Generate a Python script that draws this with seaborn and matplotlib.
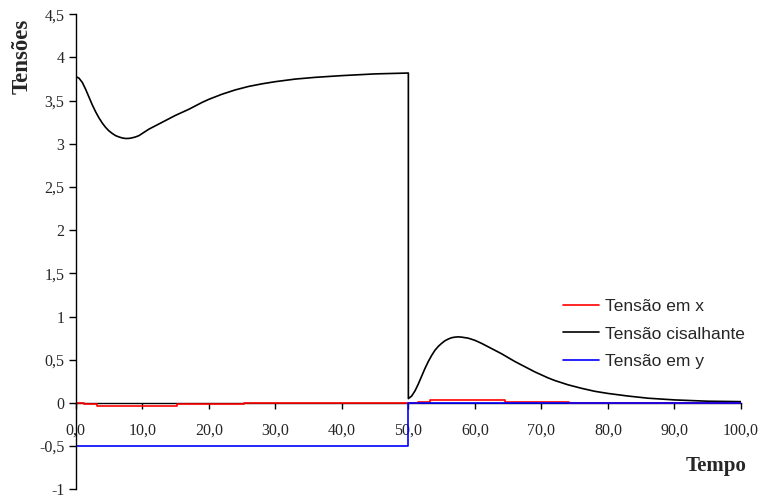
import matplotlib
matplotlib.use("Agg")
import matplotlib.pyplot as plt
import seaborn as sns
import pandas as pd

# Tensão cisalhante (black curve)
tempo_cis = [0, 0.5, 1, 1.5, 2, 2.5, 3, 3.5, 4, 4.5, 5, 5.5, 6, 6.5, 7, 7.5, 8, 8.5,
             9, 9.5, 10, 11, 12, 13, 14, 15, 16, 17, 18, 19, 20, 22, 24, 26, 28, 30,
             33, 36, 40, 45, 50,
             50, 50.5, 51, 51.5, 52, 52.5, 53, 53.5, 54, 54.5, 55, 55.5, 56, 56.5, 57,
             57.5, 58, 59, 60, 61, 62, 63, 64, 65, 66, 67, 68, 69, 70, 71, 72, 74, 76,
             78, 80, 83, 86, 90, 95, 100]
tensao_cis = [3.78, 3.76, 3.71, 3.63, 3.54, 3.45, 3.37, 3.30, 3.24, 3.19, 3.15, 3.12,
              3.095, 3.08, 3.068, 3.062, 3.063, 3.07, 3.08, 3.095, 3.12, 3.17, 3.21,
              3.25, 3.29, 3.33, 3.365, 3.40, 3.44, 3.48, 3.515, 3.575, 3.625, 3.665,
              3.695, 3.72, 3.75, 3.77, 3.79, 3.81, 3.82,
              0.05, 0.08, 0.14, 0.22, 0.31, 0.40, 0.48, 0.55, 0.61, 0.655, 0.69, 0.72,
              0.74, 0.755, 0.762, 0.765, 0.762, 0.75, 0.725, 0.69, 0.65, 0.61, 0.57,
              0.525, 0.48, 0.44, 0.40, 0.36, 0.325, 0.29, 0.26, 0.21, 0.17, 0.135,
              0.11, 0.08, 0.055, 0.035, 0.02, 0.015]

# Tensão em x (red, stepped)
tempo_x = [0, 1.2, 1.2, 3.2, 3.2, 15.2, 15.2, 25.3, 25.3, 51.5, 51.5, 53.3, 53.3,
           64.6, 64.6, 74.2, 74.2, 100]
tensao_x = [0, 0, -0.01, -0.01, -0.03, -0.03, -0.012, -0.012, 0, 0, 0.01, 0.01,
            0.03, 0.03, 0.015, 0.015, 0, 0]

# Tensão em y (blue, step at t = 50)
tempo_y = [0, 50, 50, 100]
tensao_y = [-0.5, -0.5, 0, 0]

series_names = ["Tensão em x", "Tensão cisalhante", "Tensão em y"]
series_colors = ["#ff0000", "#000000", "#0000ff"]

x_ticks = [0, 10, 20, 30, 40, 50, 60, 70, 80, 90, 100]
x_tick_labels = ["0,0", "10,0", "20,0", "30,0", "40,0", "50,0", "60,0", "70,0",
                 "80,0", "90,0", "100,0"]
y_ticks = [-1, -0.5, 0, 0.5, 1, 1.5, 2, 2.5, 3, 3.5, 4, 4.5]
y_tick_labels = ["-1", "-0,5", "0", "0,5", "1", "1,5", "2", "2,5", "3", "3,5", "4", "4,5"]

frames = []
for name, t, v in [(series_names[0], tempo_x, tensao_x),
                   (series_names[1], tempo_cis, tensao_cis),
                   (series_names[2], tempo_y, tensao_y)]:
    frames.append(pd.DataFrame({"Tempo": t, "Tensões": v, "Série": name}))
df = pd.concat(frames, ignore_index=True)

sns.set_style("white")
plt.rcParams["font.family"] = ["Liberation Serif", "DejaVu Serif"]

fig = plt.figure(figsize=(7.64, 5.01), dpi=100)
ax = fig.add_axes([0.0991, 0.02335, 0.8708, 0.9481])

sns.lineplot(data=df, x="Tempo", y="Tensões", hue="Série", hue_order=series_names,
             palette=dict(zip(series_names, series_colors)), estimator=None,
             sort=False, units="Série", linewidth=1.2, ax=ax, legend=False)

ax.set_xlim(0, 100)
ax.set_ylim(-1, 4.5)
ax.set_xlabel("")
ax.set_ylabel("")

for side in ["top", "right"]:
    ax.spines[side].set_visible(False)
ax.spines["bottom"].set_position(("data", 0))
ax.spines["bottom"].set_zorder(0.5)
for side in ["left", "bottom"]:
    ax.spines[side].set_color("#000000")
    ax.spines[side].set_linewidth(1.0)

ax.set_xticks(x_ticks)
ax.set_xticklabels(x_tick_labels)
ax.set_yticks(y_ticks)
ax.set_yticklabels(y_tick_labels)
ax.tick_params(axis="x", direction="out", length=4, width=1, color="#000000",
               pad=10.5, labelsize=11.5, bottom=True)
ax.tick_params(axis="y", direction="out", length=5, width=1, color="#000000",
               pad=3, labelsize=11.5, left=True)

handles = [plt.Line2D([], [], color=c, linewidth=1.2) for c in series_colors]
leg = fig.legend(handles, series_names, loc="center left",
                 bbox_to_anchor=(563 / 764, 1 - 334 / 501),
                 bbox_transform=fig.transFigure, frameon=False,
                 prop={"family": "Liberation Sans", "size": 12.5},
                 handlelength=2.1, handletextpad=0.3, labelspacing=0.72,
                 borderpad=0, borderaxespad=0)

fig.text(22 / 764, 1 - 56 / 501, "Tensões", rotation=90, ha="center", va="center",
         fontsize=16.5, fontweight="bold")
fig.text(746 / 764, 1 - 466 / 501, "Tempo", ha="right", va="center",
         fontsize=15, fontweight="bold")

fig.savefig("out.png", dpi=100)
